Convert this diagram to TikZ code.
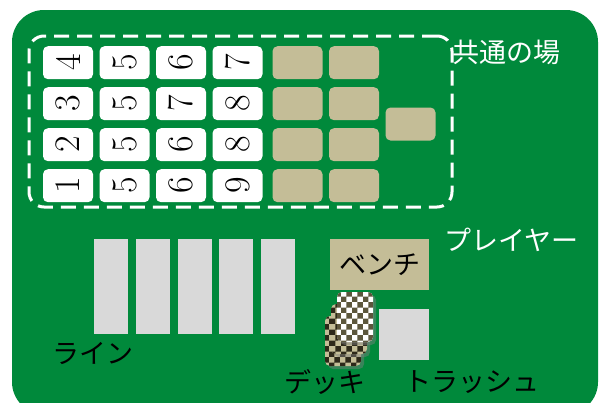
\documentclass[tikz,border=0pt]{standalone}
\usepackage{fontspec}
\newfontfamily\jpfont{Noto Sans CJK JP}
\usetikzlibrary{patterns,shadows}
\definecolor{boardgreen}{RGB}{0,137,59}
\definecolor{cardtan}{RGB}{196,189,151}
\definecolor{cardgray}{RGB}{217,217,217}
\definecolor{deckfront}{RGB}{92,86,60}
\definecolor{deckback}{RGB}{45,40,25}

\tikzset{
  numcard/.style={fill=white,rounded corners=5pt,minimum width=50pt,minimum height=33pt,inner sep=0pt},
  digit/.style={rotate=90,inner sep=0pt,font=\fontsize{36}{36}\selectfont},
  tancard/.style={fill=cardtan,rounded corners=5pt,minimum width=50pt,minimum height=33pt,inner sep=0pt},
  linecard/.style={fill=cardgray,minimum width=34pt,minimum height=95pt,inner sep=0pt},
  deckcard/.style={rounded corners=5pt,minimum width=36pt,minimum height=50pt,inner sep=0pt,
    drop shadow={shadow xshift=3pt,shadow yshift=-3pt,opacity=0.45}},
  field/.style={draw=white,line width=3pt,dash pattern=on 15pt off 8pt,rounded corners=15pt,inner sep=0pt},
  lbl/.style={font=\jpfont\fontsize{27}{27}\selectfont,inner sep=0pt,anchor=west},
}

\begin{document}
\begin{tikzpicture}[x=1pt,y=-1pt]
\useasboundingbox (0,0) rectangle (602,402);
\clip (0,0) rectangle (602,402);
% board
\fill[boardgreen,rounded corners=32pt] (12,10) rectangle (598,414);

% common field
\node[field,minimum width=423pt,minimum height=171pt] (commons) at (240.5,121.5) {};
\foreach \row/\digits in {0/{4,5,6,7},1/{3,5,7,8},2/{2,5,6,8},3/{1,5,6,9}}{
  \foreach \d [count=\c from 0] in \digits {
    \node[numcard] (num-\row-\c) at ({68+56.5*\c},{62.7+41*\row}) {};
    \node[digit] (dig-\row-\c) at (num-\row-\c) {\d};
  }
  \foreach \c in {0,1}
    \node[tancard] (tan-\row-\c) at ({297.5+56.5*\c},{62.7+41*\row}) {};
}
\node[tancard] (tan-extra) at (410.5,124) {};
\node[lbl,white] (commonslbl) at (452,52) {共通の場};

% player
\node[lbl,white] (playerlbl) at (444,240) {プレイヤー};
\foreach \i in {0,...,4}
  \node[linecard] (line-\i) at ({111+41.8*\i},286.5) {};
\node[lbl,text=black] (linelbl) at (52,353) {ライン};

\node[fill=cardtan,minimum width=99pt,minimum height=51pt,inner sep=0pt,
  font=\jpfont\fontsize{27}{27}\selectfont] (bench) at (379.5,264.5) {ベンチ};

\node[deckcard,preaction={fill=cardtan},pattern=checkerboard,pattern color=deckback] (deck-2) at (343,341) {};
\node[deckcard,preaction={fill=cardtan},pattern=checkerboard,pattern color=deckback] (deck-1) at (349,329) {};
\node[deckcard,preaction={fill=white},pattern=checkerboard,pattern color=deckfront] (deck-0) at (355,317) {};
\node[lbl] (decklbl) at (284,382) {デッキ};

\node[fill=cardgray,minimum width=50pt,minimum height=51pt,inner sep=0pt] (trash) at (404,334.5) {};
\node[lbl] (trashlbl) at (404,382) {トラッシュ};
\end{tikzpicture}
\end{document}
